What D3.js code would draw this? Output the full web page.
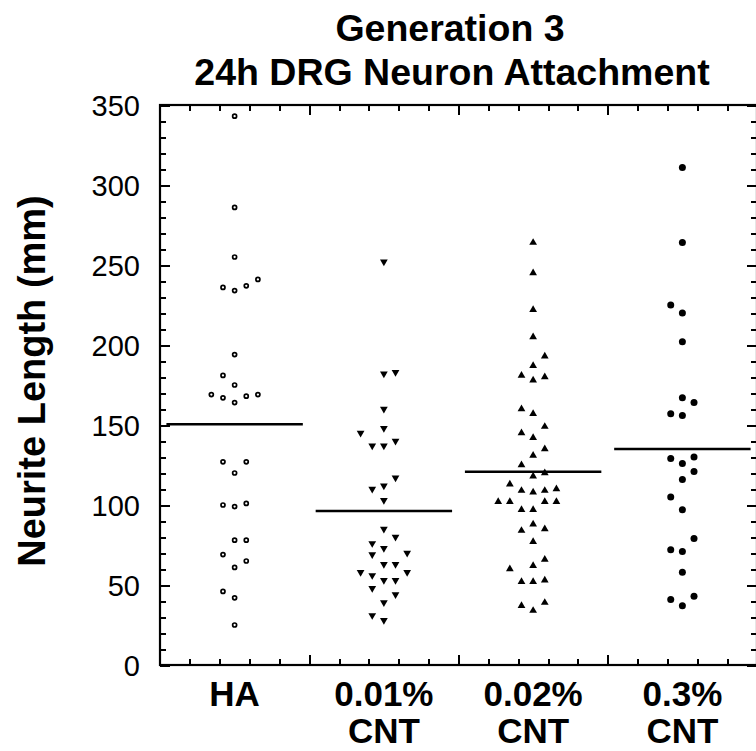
<!DOCTYPE html>
<html>
<meta charset="utf-8">
<style>
body { margin: 0; background: #fff; }
svg { display: block; font-family: "Liberation Sans", Arial, sans-serif; }
.frame line { stroke: #000; stroke-width: 2; shape-rendering: crispEdges; }
.title { font-weight: bold; font-size: 37.5px; fill: #000; }
.cat { font-weight: bold; font-size: 35px; fill: #000; }
.ylabel { font-weight: bold; font-size: 38px; fill: #000; }
.ytick text { font-size: 29px; fill: #000; }
</style>
<body>
<script src="https://d3js.org/d3.v7.min.js"></script>
<script>
// categories and tick values
var categories = [["HA"], ["0.01%", "CNT"], ["0.02%", "CNT"], ["0.3%", "CNT"]];
var yMajorTicks = [0, 50, 100, 150, 200, 250, 300, 350];

// neurite lengths, with the column slot each dot sits in
var haValues = [343, 286, 255, 236, 234, 237, 241, 194, 181, 175, 169, 167, 164, 168, 169, 127, 120, 127, 100, 99, 101, 78, 78, 69, 61, 65, 46, 42, 25];
var haSlots = [0, 0, 0, -1, 0, 1, 2, 0, -1, 0, -2, -1, 0, 1, 2, -1, 0, 1, -1, 0, 1, 0, 1, -1, 0, 1, -1, 0, 0];

var cnt001Values = [252, 182, 183, 160, 145, 148, 137, 137, 140, 117, 110, 112, 103, 85, 80, 76, 73, 69, 70, 63, 63, 58, 56, 58, 53, 53, 48, 44, 39, 31, 28];
var cnt001Slots = [0, 0, 1, 0, -2, 0, -1, 0, 1, 1, -1, 0, 0, 0, 1, -1, 0, -1, 2, 0, 1, -2, -1, 2, 0, 1, -1, 1, 0, -1, 0];

var cnt002Values = [264, 245, 222, 205, 193, 187, 181, 178, 180, 160, 157, 149, 145, 142, 135, 131, 125, 118, 120, 113, 109, 108, 109, 110, 102, 102, 97, 97, 102, 102, 84, 88, 85, 77, 66, 60, 62, 52, 52, 53, 37, 34, 39];
var cnt002Slots = [0, 0, 0, 0, 1, 0, -1, 0, 1, -1, 0, 1, -1, 0, 1, 0, -1, 0, 1, -2, -1, 0, 1, 2, -3, -2, -1, 0, 1, 2, -1, 0, 1, 0, 1, -2, 0, -1, 0, 1, -1, 0, 1];

var cnt03Values = [311, 264, 225, 220, 202, 167, 164, 157, 156, 129, 126, 130, 121, 116, 105, 97, 79, 72, 71, 58, 41, 37, 43];
var cnt03Slots = [0, 0, -1, 0, 0, 0, 1, -1, 0, -1, 0, 1, 1, 0, -1, 0, 1, -1, 0, 0, -1, 0, 1];

var means = [150.4, 96.3, 120.8, 135];

var width = 756, height = 751;
var margin = {top: 105, left: 160};
var plotRight = 757, plotBottom = 665;
var slotStep = 0.078;

var x = d3.scaleLinear().domain([0, 4]).range([margin.left, plotRight]);
var y = d3.scaleLinear().domain([0, 350]).range([plotBottom, margin.top]);

var svg = d3.select("body").append("svg")
	.attr("width", width)
	.attr("height", height);

// title
svg.append("text").attr("class", "title")
	.attr("x", 450).attr("y", 41)
	.attr("text-anchor", "middle")
	.text("Generation 3");
svg.append("text").attr("class", "title")
	.attr("x", 452).attr("y", 85)
	.attr("text-anchor", "middle")
	.text("24h DRG Neuron Attachment");

// frame with inward ticks on all four sides
var xMinor = d3.range(0, 4.01, 0.2).filter(function(d) { return Math.abs(d - Math.round(d)) > 0.01; });
var xMajor = [1, 2, 3];
var yMinor = d3.range(0, 351, 10).filter(function(d) { return d % 50 != 0; });

function frameAxis(axis, tx, ty, cls) {
	var g = svg.append("g").attr("class", "frame" + (cls ? " " + cls : ""))
		.attr("transform", "translate(" + tx + "," + ty + ")")
		.call(axis);
	g.select(".domain").remove();
	return g;
}

frameAxis(d3.axisBottom(x).tickValues(xMinor).tickSize(-6).tickFormat(""), 0, plotBottom);
frameAxis(d3.axisBottom(x).tickValues(xMajor).tickSize(-10).tickFormat(""), 0, plotBottom);
frameAxis(d3.axisTop(x).tickValues(xMinor).tickSize(-6).tickFormat(""), 0, margin.top);
frameAxis(d3.axisTop(x).tickValues(xMajor).tickSize(-10).tickFormat(""), 0, margin.top);
frameAxis(d3.axisLeft(y).tickValues(yMinor).tickSize(-6).tickFormat(""), margin.left, 0);
frameAxis(d3.axisLeft(y).tickValues(yMajorTicks).tickSize(-10).tickPadding(20), margin.left, 0, "ytick");
frameAxis(d3.axisRight(y).tickValues(yMinor).tickSize(-6).tickFormat(""), plotRight, 0);
frameAxis(d3.axisRight(y).tickValues(yMajorTicks).tickSize(-10).tickFormat(""), plotRight, 0);

svg.selectAll(".ytick text").attr("dy", "0.36em");

svg.append("rect")
	.attr("x", margin.left)
	.attr("y", margin.top)
	.attr("width", plotRight - margin.left)
	.attr("height", plotBottom - margin.top)
	.attr("fill", "none")
	.attr("stroke", "#000")
	.attr("stroke-width", 2.2);

// y label
svg.append("text").attr("class", "ylabel")
	.attr("transform", "translate(45," + ((margin.top + plotBottom) / 2 - 4) + ") rotate(-90)")
	.attr("text-anchor", "middle")
	.text("Neurite Length (mm)");

// category labels
categories.forEach(function(lines, i) {
	var t = svg.append("text").attr("class", "cat")
		.attr("text-anchor", "middle");
	lines.forEach(function(s, j) {
		t.append("tspan")
			.attr("x", x(i + 0.5))
			.attr("y", 706 + j * 37)
			.text(s);
	});
});

// mean lines
svg.selectAll(".mean").data(means).enter().append("line")
	.attr("class", "mean")
	.attr("x1", function(d, i) { return x(i + 0.5 - 0.457); })
	.attr("x2", function(d, i) { return x(i + 0.5 + 0.457); })
	.attr("y1", function(d) { return y(d); })
	.attr("y2", function(d) { return y(d); })
	.style("stroke", "#000")
	.style("stroke-width", 2.5);

function pts(values, slots, group) {
	return values.map(function(v, k) { return {v: v, px: group + 0.5 + slots[k] * slotStep}; });
}

// HA: open circles
svg.append("g").selectAll("circle").data(pts(haValues, haSlots, 0)).enter().append("circle")
	.attr("cx", function(d) { return x(d.px); })
	.attr("cy", function(d) { return y(d.v); })
	.attr("r", 2)
	.style("fill", "#fff")
	.style("stroke", "#000")
	.style("stroke-width", 1.7);

// 0.01% CNT: down triangles
var tri = d3.symbol().type(d3.symbolTriangle).size(26);
svg.append("g").selectAll("path").data(pts(cnt001Values, cnt001Slots, 1)).enter().append("path")
	.attr("d", tri)
	.attr("transform", function(d) { return "translate(" + x(d.px) + "," + y(d.v) + ") rotate(180)"; })
	.style("fill", "#000");

// 0.02% CNT: up triangles
svg.append("g").selectAll("path").data(pts(cnt002Values, cnt002Slots, 2)).enter().append("path")
	.attr("d", tri)
	.attr("transform", function(d) { return "translate(" + x(d.px) + "," + y(d.v) + ")"; })
	.style("fill", "#000");

// 0.3% CNT: filled circles
svg.append("g").selectAll("circle").data(pts(cnt03Values, cnt03Slots, 3)).enter().append("circle")
	.attr("cx", function(d) { return x(d.px); })
	.attr("cy", function(d) { return y(d.v); })
	.attr("r", 3.5)
	.style("fill", "#000");
</script>
</body>
</html>
